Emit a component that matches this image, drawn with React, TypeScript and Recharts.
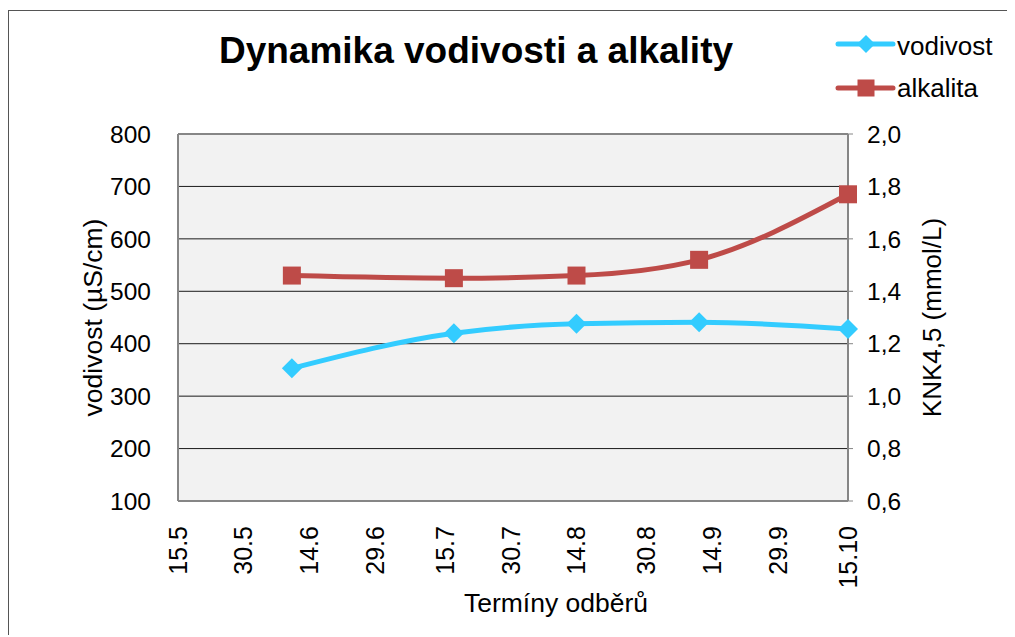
import { LineChart, Line, XAxis, YAxis, CartesianGrid, ReferenceLine } from "recharts";

const FONT = "'Liberation Sans', Arial, sans-serif";

// x axis: days counted from 15.5.
const tickLabels = ["15.5", "30.5", "14.6", "29.6", "15.7", "30.7", "14.8", "30.8", "14.9", "29.9", "15.10"];
const tickDays = [0, 15, 30, 45, 61, 76, 91, 107, 122, 137, 153];

// sampling dates
const sampleDates = ["10.6", "17.7", "14.8", "11.9", "15.10"];
const sampleDays = [26, 63, 91, 119, 153];

const vodivost = [353, 420, 438, 441, 428];
const alkalita = [1.46, 1.45, 1.46, 1.52, 1.77];

const leftTicks = [100, 200, 300, 400, 500, 600, 700, 800];
const rightTicks = [0.6, 0.8, 1.0, 1.2, 1.4, 1.6, 1.8, 2.0];

const data = sampleDays.map((day, i) => ({
  day,
  date: sampleDates[i],
  vodivost: vodivost[i],
  alkalita: alkalita[i],
}));

const BLUE = "#33ccff";
const RED = "#be4b48";

function Diamond({ cx, cy, r = 10, fill }: any) {
  if (cx == null || cy == null) return null;
  return <polygon points={`${cx},${cy - r} ${cx + r},${cy} ${cx},${cy + r} ${cx - r},${cy}`} fill={fill} />;
}

function Square({ cx, cy, s = 9, fill }: any) {
  if (cx == null || cy == null) return null;
  return <rect x={cx - s} y={cy - s} width={s * 2} height={s * 2} fill={fill} />;
}

function DateTick({ x, y, payload }: any) {
  const i = tickDays.indexOf(payload.value);
  return (
    <text
      x={x}
      y={y + 17}
      transform={`rotate(-90, ${x}, ${y + 17})`}
      textAnchor="end"
      dy="0.35em"
      fontSize={25}
      fontFamily={FONT}
      fill="#000"
    >
      {i >= 0 ? tickLabels[i] : ""}
    </text>
  );
}

// x axis title sits right of the plot centre, as in the original
function XTitle({ viewBox }: any) {
  if (!viewBox) return null;
  const { x, y, width, height } = viewBox;
  return (
    <text x={x + width / 2 + 43} y={y + height - 9} textAnchor="middle" fontSize={26.5} fontFamily={FONT} fill="#000">
      Termíny odběrů
    </text>
  );
}

const legendRows = [
  { name: "vodivost", color: BLUE, kind: "diamond", lineY: 33, baseY: 44 },
  { name: "alkalita", color: RED, kind: "square", lineY: 77, baseY: 86 },
];

function LegendBox() {
  return (
    <>
      {legendRows.map((r) => (
        <div key={r.name}>
          <svg width={64} height={24} style={{ position: "absolute", left: 826, top: r.lineY - 12 }}>
            <line x1={3} y1={12} x2={58} y2={12} stroke={r.color} strokeWidth={5} strokeLinecap="round" />
            {r.kind === "diamond" ? (
              <Diamond cx={31} cy={12} r={9} fill={r.color} />
            ) : (
              <Square cx={31} cy={12} s={8.5} fill={r.color} />
            )}
          </svg>
          <span
            style={{
              position: "absolute",
              left: 888,
              top: r.baseY - 23.6,
              fontFamily: FONT,
              fontSize: 26,
              lineHeight: "30px",
              color: "#000",
              whiteSpace: "nowrap",
            }}
          >
            {r.name}
          </span>
        </div>
      ))}
    </>
  );
}

export default function App() {
  return (
    <div
      style={{
        position: "relative",
        top: 2,
        width: 1007,
        height: 627,
        borderTop: "1px solid #555",
        borderLeft: "1px solid #555",
        boxSizing: "border-box",
        background: "#fff",
      }}
    >
      <style>{"html,body{overflow:hidden}"}</style>
      <div
        style={{
          position: "absolute",
          left: 0,
          width: 934,
          top: 19,
          textAlign: "center",
          fontFamily: FONT,
          fontWeight: "bold",
          fontSize: 37,
          lineHeight: "normal",
          color: "#000",
        }}
      >
        Dynamika vodivosti a alkality
      </div>
      <LegendBox />
      <LineChart width={1006} height={626} data={data} margin={{ top: 123, right: 67, bottom: 16, left: 70 }}>
        <CartesianGrid yAxisId="left" vertical={false} fill="#f2f2f2" stroke="#1a1a1a" />
        <XAxis
          dataKey="day"
          type="number"
          domain={[0, 153]}
          ticks={tickDays}
          interval={0}
          height={120}
          tickLine={false}
          axisLine={{ stroke: "#868686", strokeWidth: 2 }}
          tick={<DateTick />}
          label={<XTitle />}
        />
        <YAxis
          yAxisId="left"
          domain={[100, 800]}
          ticks={leftTicks}
          interval={0}
          width={99}
          tickLine={false}
          tickSize={0}
          tickMargin={27}
          axisLine={{ stroke: "#868686", strokeWidth: 2 }}
          tick={{ fontFamily: FONT, fontSize: 24.5, fill: "#000" }}
          label={{
            value: "vodivost (µS/cm)",
            angle: -90,
            position: "insideLeft",
            offset: 14,
            style: { fontFamily: FONT, fontSize: 26.5, fill: "#000", textAnchor: "middle" },
          }}
        />
        <YAxis
          yAxisId="right"
          orientation="right"
          domain={[0.6, 2.0]}
          ticks={rightTicks}
          interval={0}
          width={100}
          tickSize={5}
          tickMargin={14}
          tickLine={{ stroke: "#868686" }}
          axisLine={{ stroke: "#868686", strokeWidth: 2 }}
          tickFormatter={(v: number) => v.toFixed(1).replace(".", ",")}
          tick={{ fontFamily: FONT, fontSize: 24.5, fill: "#000" }}
          label={{
            value: "KNK4,5 (mmol/L)",
            angle: -90,
            position: "insideRight",
            offset: 16,
            style: { fontFamily: FONT, fontSize: 26, fill: "#000", textAnchor: "middle" },
          }}
        />
        <ReferenceLine yAxisId="left" y={800} stroke="#868686" strokeWidth={2} />
        <Line
          yAxisId="left"
          type="monotone"
          dataKey="vodivost"
          stroke={BLUE}
          strokeWidth={5}
          isAnimationActive={false}
          dot={(p: any) => <Diamond key={`v-${p.index}`} cx={p.cx} cy={p.cy} r={10} fill={BLUE} />}
          activeDot={false}
        />
        <Line
          yAxisId="right"
          type="monotone"
          dataKey="alkalita"
          stroke={RED}
          strokeWidth={5}
          isAnimationActive={false}
          dot={(p: any) => <Square key={`a-${p.index}`} cx={p.cx} cy={p.cy} s={9} fill={RED} />}
          activeDot={false}
        />
      </LineChart>
    </div>
  );
}
